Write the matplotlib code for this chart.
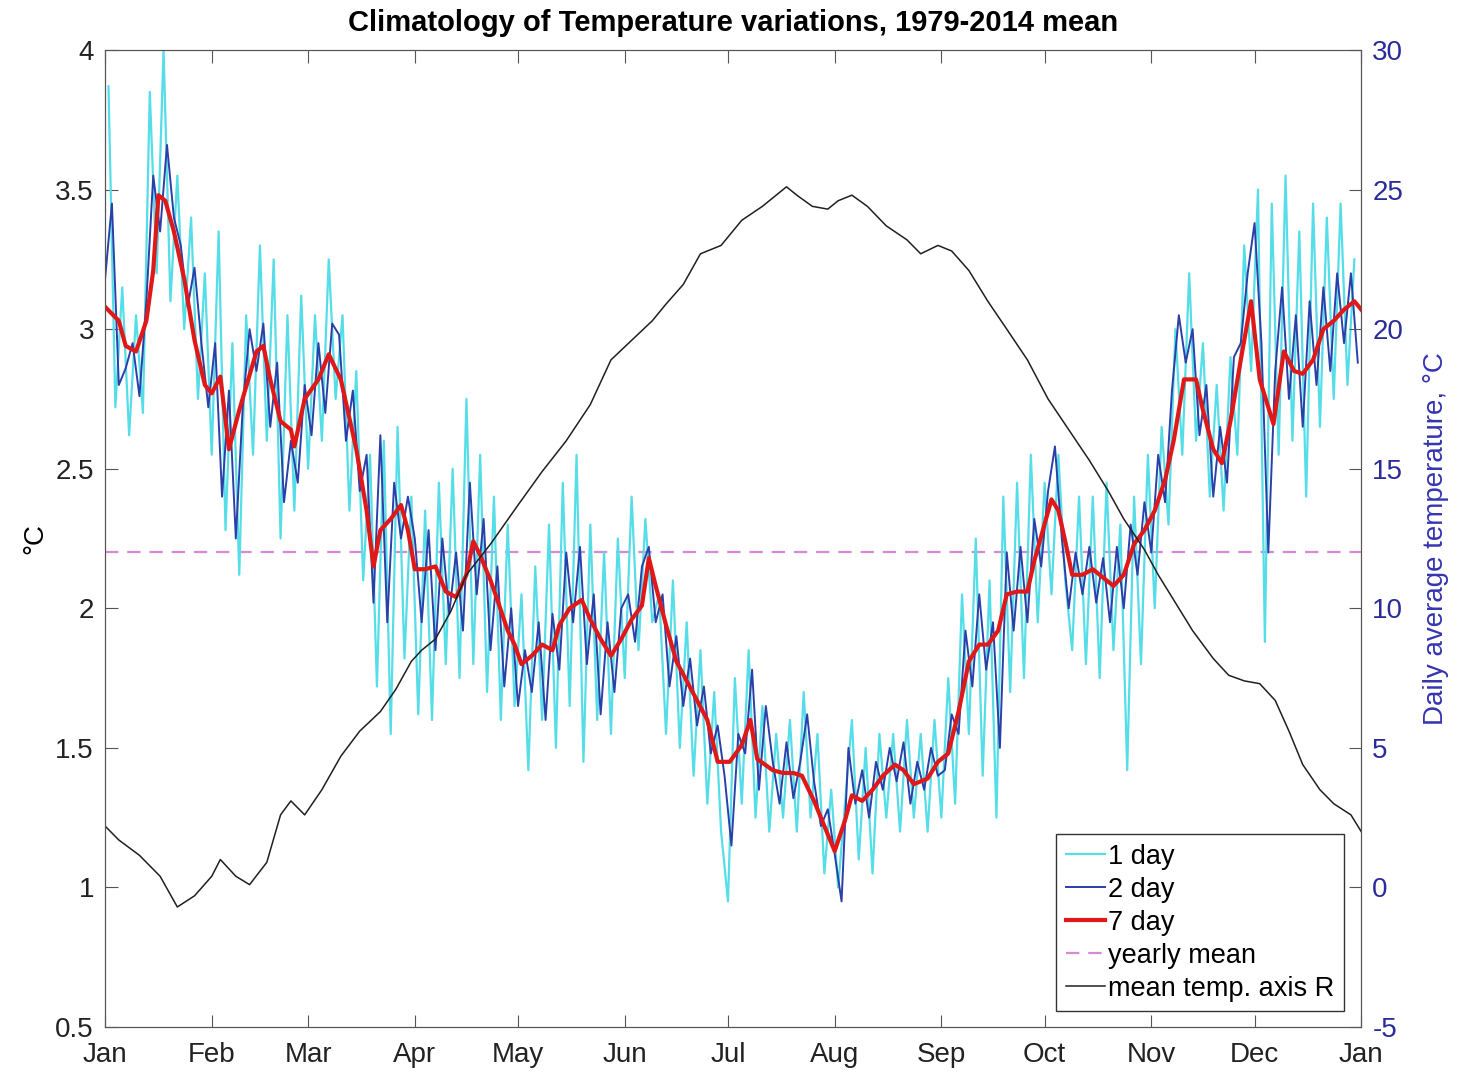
import matplotlib
matplotlib.use('Agg')
import matplotlib.pyplot as plt
import numpy as np

# month tick positions (day of year) and labels
month_days = [0, 31, 59, 90, 120, 151, 181, 212, 243, 273, 304, 334, 365]
month_labels = ['Jan', 'Feb', 'Mar', 'Apr', 'May', 'Jun', 'Jul', 'Aug', 'Sep', 'Oct', 'Nov', 'Dec', 'Jan']

# 1 day variation, read at odd days 1, 3, ..., 363
one_day = [
    3.87, 2.72, 3.15, 2.62, 3.05, 2.70, 3.85, 3.20, 4.00, 3.10, 3.55, 3.00, 3.40, 2.75, 3.20,
    2.55, 3.35, 2.28, 2.95, 2.12, 3.05, 2.55, 3.30, 2.60, 3.25, 2.25, 3.05, 2.35, 3.12,
    2.50, 3.05, 2.60, 3.25, 2.75, 3.05, 2.35, 2.85, 2.10, 2.55, 1.72, 2.60, 1.55, 2.65, 1.82, 2.40,
    1.62, 2.35, 1.60, 2.45, 1.80, 2.50, 1.75, 2.75, 1.80, 2.55, 1.70, 2.40, 1.60, 2.30, 1.65,
    2.05, 1.42, 2.15, 1.60, 2.30, 1.50, 2.45, 1.65, 2.55, 1.45, 2.30, 1.60, 2.20, 1.55, 2.25,
    1.75, 2.40, 1.85, 2.32, 1.95, 2.05, 1.55, 2.10, 1.50, 1.95, 1.40, 1.85, 1.30, 1.70, 1.20,
    0.95, 1.75, 1.30, 1.85, 1.25, 1.65, 1.20, 1.55, 1.25, 1.60, 1.20, 1.70, 1.25, 1.55, 1.05, 1.35,
    1.00, 1.30, 1.60, 1.10, 1.50, 1.05, 1.55, 1.25, 1.55, 1.20, 1.60, 1.25, 1.55, 1.20, 1.60,
    1.25, 1.75, 1.30, 2.05, 1.55, 2.25, 1.40, 2.10, 1.25, 2.40, 1.70, 2.45, 1.75, 2.55, 1.95,
    2.45, 2.05, 2.55, 2.10, 1.85, 2.40, 1.80, 2.40, 1.75, 2.45, 1.85, 2.30, 1.42, 2.40, 1.80, 2.55,
    2.00, 2.65, 2.30, 3.00, 2.55, 3.20, 2.60, 2.95, 2.40, 2.80, 2.35, 2.90, 2.55, 3.30, 2.85,
    3.50, 1.88, 3.45, 2.55, 3.55, 2.60, 3.35, 2.40, 3.45, 2.65, 3.40, 2.75, 3.45, 2.80, 3.25,
]

# 2 day variation, read at even days 0, 2, ..., 364
two_day = [
    3.18, 3.45, 2.80, 2.86, 2.95, 2.76, 3.10, 3.55, 3.35, 3.66, 3.40, 3.30, 3.08, 3.22, 2.95, 2.72,
    2.95, 2.40, 2.78, 2.25, 2.72, 3.00, 2.85, 3.02, 2.65, 2.88, 2.38, 2.60, 2.45, 2.80,
    2.62, 2.95, 2.70, 3.02, 2.98, 2.60, 2.78, 2.42, 2.55, 2.02, 2.62, 1.95, 2.45, 2.25, 2.40,
    2.25, 1.95, 2.28, 1.85, 2.25, 1.98, 2.20, 1.92, 2.45, 2.05, 2.32, 1.85, 2.15, 1.72, 2.00,
    1.65, 1.85, 1.70, 1.95, 1.60, 1.98, 1.78, 2.20, 1.95, 2.22, 1.80, 2.05, 1.62, 1.95, 1.70, 2.00,
    2.05, 1.88, 2.15, 2.22, 1.95, 2.05, 1.72, 1.90, 1.65, 1.82, 1.58, 1.72, 1.48, 1.58, 1.40,
    1.15, 1.55, 1.48, 1.78, 1.35, 1.65, 1.45, 1.30, 1.52, 1.32, 1.45, 1.62, 1.38, 1.22, 1.28,
    1.12, 0.95, 1.50, 1.30, 1.42, 1.25, 1.45, 1.35, 1.50, 1.38, 1.52, 1.30, 1.45, 1.35, 1.50, 1.40,
    1.42, 1.62, 1.55, 1.92, 1.72, 2.05, 1.78, 1.95, 1.50, 2.20, 1.92, 2.22, 1.95, 2.32, 2.15,
    2.42, 2.58, 2.25, 2.00, 2.20, 2.05, 2.22, 2.02, 2.18, 1.95, 2.22, 2.00, 2.30, 2.12, 2.38,
    2.20, 2.55, 2.38, 2.78, 3.05, 2.88, 3.00, 2.62, 2.80, 2.40, 2.65, 2.45, 2.90, 2.95, 3.20,
    3.38, 2.95, 2.20, 2.85, 3.15, 2.75, 3.05, 2.65, 3.10, 2.80, 3.15, 2.85, 3.20, 2.95, 3.20, 2.88,
]

# 7 day variation
seven_day_days = [0, 4, 6, 9, 12, 14, 15.5, 17.5, 20, 23, 26, 29, 31, 33.5, 36, 39, 44, 46, 48, 51,
                  54, 55, 58, 62, 65, 68.5, 73, 76, 78, 80, 83, 86, 88, 90, 93, 96, 99, 102, 105, 107,
                  109, 112, 114, 117, 119, 121, 124, 127, 130, 132, 135, 138.5, 141, 144, 147, 150,
                  153, 156, 158, 160, 163, 166, 169, 172, 175, 178, 181.5, 185, 187.5, 189.5, 194,
                  197, 200, 202.5, 206, 209, 212, 215, 217, 220, 223, 226, 229.5, 232, 235, 239, 242,
                  245, 248, 251, 254, 256.5, 259.5, 262, 265, 268, 270, 272.5, 275, 277, 279, 281,
                  284, 287, 290, 293, 296, 299, 302, 305, 308, 310.5, 313.5, 317, 319, 322, 324.5,
                  327, 330, 333, 335.5, 339.5, 342.5, 345.5, 348, 351, 354, 357, 360, 363, 365]
seven_day = [3.08, 3.03, 2.94, 2.92, 3.03, 3.21, 3.48, 3.46, 3.35, 3.18, 2.96, 2.80, 2.77, 2.83, 2.57,
             2.71, 2.92, 2.94, 2.82, 2.67, 2.64, 2.58, 2.75, 2.82, 2.91, 2.82, 2.57, 2.35, 2.15, 2.28,
             2.32, 2.37, 2.28, 2.14, 2.14, 2.15, 2.06, 2.04, 2.12, 2.24, 2.19, 2.10, 2.03, 1.92, 1.87,
             1.80, 1.83, 1.87, 1.85, 1.94, 2.00, 2.03, 1.96, 1.89, 1.83, 1.89, 1.96, 2.01, 2.18, 2.08,
             1.94, 1.81, 1.74, 1.67, 1.60, 1.45, 1.45, 1.51, 1.60, 1.46, 1.42, 1.41, 1.41, 1.40, 1.31,
             1.22, 1.13, 1.24, 1.33, 1.31, 1.35, 1.40, 1.44, 1.42, 1.37, 1.39, 1.45, 1.48, 1.63, 1.81,
             1.87, 1.87, 1.92, 2.05, 2.06, 2.06, 2.17, 2.28, 2.39, 2.35, 2.24, 2.12, 2.12, 2.14, 2.11,
             2.08, 2.12, 2.23, 2.28, 2.35, 2.46, 2.60, 2.82, 2.82, 2.71, 2.57, 2.52, 2.67, 2.89, 3.10,
             2.82, 2.66, 2.92, 2.85, 2.84, 2.89, 3.00, 3.03, 3.07, 3.10, 3.07]

yearly_mean = 2.2

# mean daily temperature (right axis)
temp_days = [0, 4, 10, 16, 21, 26, 31, 33.5, 38, 42, 47, 51, 54, 58, 63, 68.5, 74, 80, 84.5, 89, 92,
             96, 100.5, 105, 112, 120, 127, 134, 141, 147, 153, 159, 163, 168, 173, 179, 185, 191,
             195, 198, 201, 205.5, 210, 213, 217, 221.5, 227, 233, 237, 242, 246, 251, 256.5, 262,
             268, 274, 280, 286, 291.5, 296, 302, 306, 310.5, 316, 322, 326.5, 331, 335.5, 340, 344,
             348, 353, 357, 362, 365]
mean_temp = [2.2, 1.7, 1.15, 0.4, -0.7, -0.3, 0.4, 1.0, 0.4, 0.1, 0.9, 2.6, 3.1, 2.6, 3.5, 4.7, 5.6,
             6.3, 7.1, 8.1, 8.5, 8.9, 9.9, 11.2, 12.3, 13.7, 14.9, 16.0, 17.3, 18.9, 19.6, 20.3, 20.9,
             21.6, 22.7, 23.0, 23.9, 24.4, 24.8, 25.1, 24.8, 24.4, 24.3, 24.6, 24.8, 24.4, 23.7, 23.2,
             22.7, 23.0, 22.8, 22.1, 21.0, 20.0, 18.9, 17.5, 16.4, 15.3, 14.2, 13.2, 12.1, 11.2, 10.3,
             9.2, 8.2, 7.6, 7.4, 7.3, 6.7, 5.6, 4.4, 3.5, 3.0, 2.6, 2.0]

one_day_days = np.arange(1, 365, 2)
two_day_days = np.arange(0, 365, 2)

plt.rcParams['font.family'] = ['Liberation Sans', 'DejaVu Sans']
plt.rcParams['axes.unicode_minus'] = False

axis_grey = '#555555'
right_blue = '#2B2B9A'

fig = plt.figure(figsize=(14.59, 10.78), dpi=100)
ax = fig.add_axes([0.072, 0.0473, 0.861, 0.9063])

h1, = ax.plot(one_day_days, one_day, color='#55DDE8', lw=1.6, label='1 day', zorder=2)
h2, = ax.plot(two_day_days, two_day, color='#2A40A8', lw=1.4, label='2 day', zorder=3)
h3, = ax.plot(seven_day_days, seven_day, color='#E01818', lw=3, label='7 day', zorder=4)
h4 = ax.axhline(yearly_mean, color='#D58AD5', lw=1.6, ls=(0, (6, 4)), label='yearly mean', zorder=1)

ax.set_xlim(0, 365)
ax.set_ylim(0.5, 4)
ax.set_xticks(month_days)
ax.set_xticklabels(month_labels)
ax.set_yticks([0.5, 1, 1.5, 2, 2.5, 3, 3.5, 4])
ax.set_yticklabels(['0.5', '1', '1.5', '2', '2.5', '3', '3.5', '4'])
ax.tick_params(axis='both', direction='in', length=9, labelsize=20, top=True,
               color=axis_grey, labelcolor='#222222')
ax.tick_params(axis='x', pad=11)
ax.tick_params(axis='y', pad=8)
ax.set_ylabel('°C', fontsize=20, labelpad=5)
ax.set_title('Climatology of Temperature variations, 1979-2014 mean',
             fontsize=21, fontweight='bold', pad=14)

ax2 = ax.twinx()
h5, = ax2.plot(temp_days, mean_temp, color='#202020', lw=1.1, label='mean temp. axis R')
ax2.set_ylim(-5, 30)
ax2.set_yticks([-5, 0, 5, 10, 15, 20, 25, 30])
ax2.tick_params(axis='y', direction='in', length=9, labelsize=20, color=axis_grey,
                labelcolor=right_blue, pad=8)
ax2.set_ylabel('Daily average temperature, °C', fontsize=20, color='#3535B0', labelpad=14)

for a in (ax, ax2):
    for s in a.spines.values():
        s.set_color(axis_grey)

leg = ax2.legend(handles=[h1, h2, h3, h4, h5], loc='lower right', bbox_to_anchor=(0.986, 0.016),
                 fontsize=19.5, handlelength=1.45, handletextpad=0.1, labelspacing=0.26,
                 borderpad=0.35, borderaxespad=0, fancybox=False, framealpha=1, edgecolor='#333333')
leg.get_frame().set_linewidth(1.0)

fig.savefig('out.png', dpi=100)
